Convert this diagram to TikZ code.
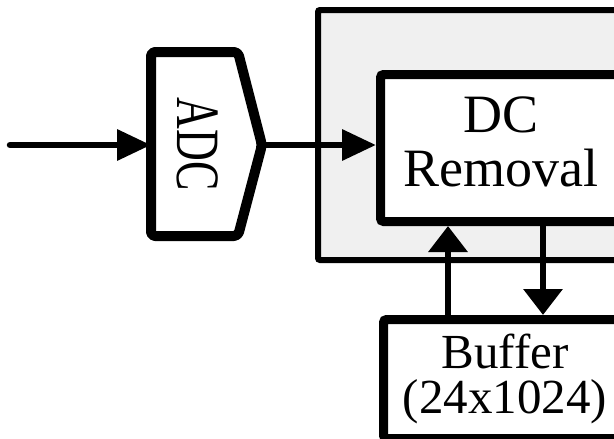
\documentclass[tikz,border=0pt]{standalone}
\usepackage{fontspec}
\setmainfont{Liberation Serif}
\usetikzlibrary{arrows.meta}
\definecolor{panelgray}{HTML}{F0F0F0}
\begin{document}
\begin{tikzpicture}[x=1pt,y=-1pt,
  harrow/.style={line width=6.5pt,-{Triangle[length=34pt,width=30pt]}},
  varrow/.style={line width=6.5pt,-{Triangle[length=26pt,width=38pt]}},
  blockbox/.style={draw,line width=9pt,rounded corners=3pt,fill=white,inner sep=0pt,anchor=north west},
  lbl/.style={inner sep=0pt,align=center}]
\useasboundingbox (0,0) rectangle (614,439);
\clip (0,0) rectangle (614,439);
% grey panel
\draw[line width=6pt,fill=panelgray,rounded corners=2pt] (318,10) rectangle (720,260);
% blocks
\node[blockbox,minimum width=340pt,minimum height=147pt] (dcr) at (376,70) {};
\node[blockbox,minimum width=340pt,minimum height=119pt] (buf) at (379,315) {};
% ADC
\draw[line width=10pt,rounded corners=4pt,line join=round]
  (151,52) -- (238,52) -- (262,145) -- (238,236) -- (151,236) -- cycle;
\coordinate (adcin) at (151,145);
\coordinate (adcout) at (262,145);
\coordinate (src) at (10,145);
\node (adc) at (198,144) {\rotatebox{-90}{\scalebox{1}[1.4]{\fontsize{44}{44}\selectfont ADC}}};
% labels
\node[lbl,font=\fontsize{54}{54}\selectfont] (dcrtext) at (501,142) {DC\\Removal};
\node[lbl,font=\fontsize{49}{45}\selectfont] (buftext) at (505,379) {Buffer\\(24x1024)};
% connectors
\coordinate (xup) at (448,0);
\coordinate (xdn) at (543,0);
\draw[harrow,line cap=round] (src) -- (adcin);
\draw[harrow] (adcout) -- (dcr.west |- adcout);
\draw[varrow] (buf.north -| xup) -- (dcr.south -| xup);
\draw[varrow] (dcr.south -| xdn) -- (buf.north -| xdn);
\end{tikzpicture}
\end{document}
